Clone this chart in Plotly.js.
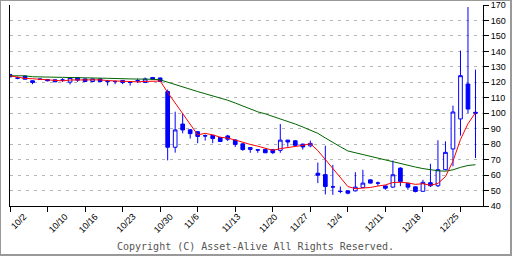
<!DOCTYPE html>
<html>
<head>
<meta charset="utf-8">
<script src="https://cdn.plot.ly/plotly-3.0.1.min.js"></script>
<style>
html,body{margin:0;padding:0;background:#fff;}
#wrap{width:512px;height:256px;box-sizing:border-box;border-style:solid;border-color:#999;border-width:1px 2px 2px 1px;overflow:hidden;}
#chart{width:509px;height:253px;}
</style>
</head>
<body>
<div id="wrap"><div id="chart"></div></div>
<script>
const dates = ["2023-10-02","2023-10-03","2023-10-04","2023-10-05","2023-10-06","2023-10-10","2023-10-11","2023-10-12","2023-10-13","2023-10-16","2023-10-17","2023-10-18","2023-10-19","2023-10-20","2023-10-23","2023-10-24","2023-10-25","2023-10-26","2023-10-27","2023-10-30","2023-10-31","2023-11-01","2023-11-02","2023-11-06","2023-11-07","2023-11-08","2023-11-09","2023-11-10","2023-11-13","2023-11-14","2023-11-15","2023-11-16","2023-11-17","2023-11-20","2023-11-21","2023-11-22","2023-11-24","2023-11-27","2023-11-28","2023-11-29","2023-11-30","2023-12-01","2023-12-04","2023-12-05","2023-12-06","2023-12-07","2023-12-08","2023-12-11","2023-12-12","2023-12-13","2023-12-14","2023-12-15","2023-12-18","2023-12-19","2023-12-20","2023-12-21","2023-12-22","2023-12-25","2023-12-26","2023-12-27","2023-12-28","2023-12-29","2024-01-04"];

const opens = [125.0,122.8,124.0,121.0,122.1,121.8,121.6,121.5,120.1,123.1,
122.2,120.5,122.2,120.6,120.6,121.2,120.1,121.1,119.9,123.1,
122.8,114.0,78.0,93.0,89.3,88.0,85.5,85.7,84.3,85.3,
82.7,80.2,76.6,76.3,76.6,76.4,76.0,82.6,82.2,80.0,
78.9,61.2,60.3,52.4,49.5,49.8,49.8,52.0,56.9,54.9,
53.0,52.2,64.5,54.7,52.4,49.5,55.1,53.1,63.5,76.9,
96.3,118.9,100.6];

const highs = [125.2,123.6,124.4,121.2,122.2,122.2,121.8,122.6,123.2,123.4,
122.4,122.4,122.6,121.6,121.0,121.4,120.6,122.4,123.1,123.4,
123.1,115.3,101.0,100.0,89.6,88.5,86.3,86.0,84.6,86.0,
83.0,80.5,78.0,76.8,76.7,76.6,93.0,82.8,82.6,80.3,
82.3,68.1,79.0,66.6,52.6,50.0,61.9,63.4,57.2,55.8,
53.2,69.4,65.0,55.0,52.6,57.0,67.3,82.5,81.8,104.9,
140.5,168.7,128.2];

const lows = [123.4,122.0,121.9,118.8,121.9,120.6,120.2,120.3,118.6,120.3,
120.4,120.3,120.3,117.9,118.8,118.8,117.9,119.5,119.5,121.8,
120.2,69.5,74.5,87.0,83.6,80.6,82.3,80.6,81.5,82.0,
78.2,75.7,74.4,74.4,74.3,73.6,74.4,78.3,79.0,76.5,
78.0,54.8,47.5,47.2,48.3,47.6,49.4,51.8,54.6,53.0,
50.5,51.8,52.8,50.5,48.8,49.3,52.3,52.3,63.1,65.7,
85.5,100.1,71.0];

const closes = [123.5,122.7,122.0,119.9,122.0,121.0,120.3,121.5,123.1,121.4,
120.5,122.2,120.5,120.5,120.5,119.9,120.0,121.0,122.2,122.0,
120.6,78.0,89.2,89.2,86.8,85.0,85.3,83.6,81.7,83.2,
79.8,76.5,77.8,76.2,74.4,74.5,82.6,81.4,79.2,78.2,
80.5,59.9,52.6,52.3,49.4,48.3,52.2,54.8,54.8,54.8,
51.5,60.2,55.8,52.2,49.4,55.3,53.1,63.5,74.7,100.8,
124.3,102.7,100.0];

const ma5 = [124.2,123.3,122.5,122.3,122.0,121.5,121.1,120.9,121.5,121.5,
121.4,121.8,121.6,121.1,120.8,120.7,120.4,120.3,120.6,120.9,
120.8,113.5,106.5,99.5,92.5,86.0,87.0,86.0,84.5,83.9,
82.7,81.0,79.8,78.7,77.2,76.0,77.1,77.8,78.4,79.2,
80.3,75.8,70.1,64.5,58.7,52.6,51.2,51.4,52.0,52.9,
53.6,55.2,55.4,54.9,54.0,54.4,53.4,54.6,59.0,69.0,
83.0,93.2,100.3];

const ma25 = [124.2,124.2,124.2,123.6,123.6,123.5,123.2,123.2,123.1,123.1,
123.0,122.7,122.7,122.6,122.6,122.2,122.2,122.1,122.1,122.0,
121.6,120.0,118.6,117.0,115.6,114.0,112.6,111.2,110.0,108.4,
106.6,104.6,102.5,100.9,99.6,98.0,96.4,94.8,93.0,91.1,
89.3,87.0,84.0,81.0,78.3,75.6,74.4,73.2,72.0,70.8,
69.6,68.6,67.5,66.4,65.2,64.2,63.3,62.8,62.5,63.4,
65.0,66.2,66.7];

const labelDates = ["2023-10-02","2023-10-10","2023-10-16","2023-10-23","2023-10-30","2023-11-06","2023-11-13","2023-11-20","2023-11-27","2023-12-04","2023-12-11","2023-12-18","2023-12-25"];
const labelTexts = ["10/2","10/10","10/16","10/23","10/30","11/6","11/13","11/20","11/27","12/4","12/11","12/18","12/25"];

const copyright = "Copyright (C) Asset-Alive All Rights Reserved.";

const blue = "#0000ff";
const traces = [
  {
    type: "candlestick",
    x: dates, open: opens, high: highs, low: lows, close: closes,
    increasing: {line: {color: blue, width: 1}, fillcolor: "#ffffff"},
    decreasing: {line: {color: blue, width: 1}, fillcolor: blue},
    whiskerwidth: 0,
    hoverinfo: "skip",
    showlegend: false
  },
  {
    type: "scatter", mode: "lines", x: dates, y: ma25,
    line: {color: "#006400", width: 1},
    hoverinfo: "skip", showlegend: false
  },
  {
    type: "scatter", mode: "lines", x: dates, y: ma5,
    line: {color: "#ff0000", width: 1},
    hoverinfo: "skip", showlegend: false
  }
];

const tickvals = dates.filter((d, i) => i % 5 === 0);

const annotations = labelDates.map((d, i) => ({
  x: d, xref: "x", y: 0, yref: "paper",
  text: labelTexts[i], showarrow: false, textangle: -45,
  xanchor: "left", yanchor: "top", xshift: -2, yshift: -4,
  borderpad: 0,
  font: {family: "Liberation Sans, Arial, sans-serif", size: 9, color: "#000"}
}));
annotations.push({
  x: 0.52, xref: "paper", y: -0.2025, yref: "paper",
  text: copyright, showarrow: false, xanchor: "center", yanchor: "middle",
  font: {family: "DejaVu Sans Mono, monospace", size: 10, color: "#555"}
});

const layout = {
  width: 509, height: 253,
  margin: {l: 9, r: 27, t: 4, b: 48, pad: 0},
  paper_bgcolor: "#ffffff", plot_bgcolor: "#ffffff",
  showlegend: false,
  xaxis: {
    type: "category",
    range: [0, 63],
    rangeslider: {visible: false},
    showgrid: false, zeroline: false,
    showline: true, linecolor: "#000", linewidth: 1,
    tickmode: "array", tickvals: tickvals, ticktext: tickvals.map(() => ""),
    ticks: "outside", ticklen: 5, tickcolor: "#000", tickwidth: 1,
    showticklabels: false,
    fixedrange: true
  },
  yaxis: {
    side: "right",
    range: [40, 170],
    tickmode: "linear", tick0: 40, dtick: 10,
    ticks: "outside", ticklen: 5, tickcolor: "#000", tickwidth: 1,
    showline: true, linecolor: "#000", linewidth: 1, mirror: true,
    showgrid: true, gridcolor: "#b4b4b4", gridwidth: 1, griddash: "3px,5px",
    zeroline: false,
    ticklabeloverflow: "allow",
    tickfont: {family: "Liberation Sans, Arial, sans-serif", size: 9, color: "#000"},
    fixedrange: true
  },
  annotations: annotations
};

Plotly.newPlot("chart", traces, layout, {displayModeBar: false, staticPlot: true});
</script>
</body>
</html>
